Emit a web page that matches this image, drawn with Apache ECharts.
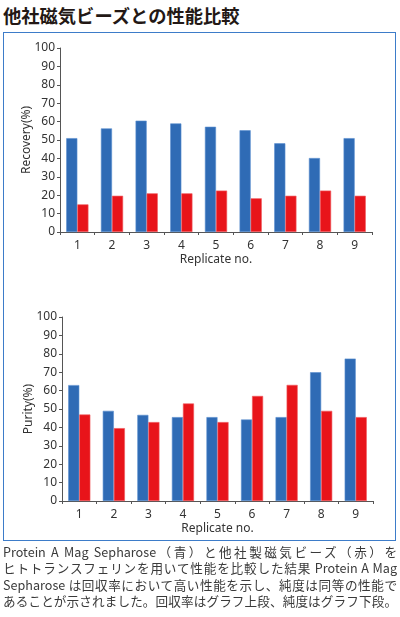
<!DOCTYPE html>
<html>
<head>
<meta charset="utf-8">
<script src="https://cdn.jsdelivr.net/npm/echarts@6/dist/echarts.min.js"></script>
<style>
  html, body { margin:0; padding:0; background:#fff; }
  #wrap { position:relative; width:400px; height:617px; overflow:hidden; }
  #title { position:absolute; left:3px; top:2px; font-family:"Noto Sans CJK JP"; font-weight:bold; font-size:18.3px; color:#231815; }
  #box { position:absolute; left:3px; top:32px; width:391px; height:507px; border:1.5px solid #3d7cc9; }
  #chart { position:absolute; left:0; top:0; width:400px; height:617px; }
  #cap { position:absolute; left:3px; top:544px; width:394px; font-family:"Noto Sans CJK JP"; font-size:12.6px; line-height:16.4px; color:#3a3a3a; }
  #cap div { text-align:justify; text-align-last:justify; white-space:nowrap; }
</style>
</head>
<body>
<div id="wrap">
  <div id="title">他社磁気ビーズとの性能比較</div>
  <div id="box"></div>
  <div id="chart"></div>
  <div id="cap">
    <div>Protein A Mag Sepharose（青）と他社製磁気ビーズ（赤）を</div>
    <div>ヒトトランスフェリンを用いて性能を比較した結果 Protein A Mag</div>
    <div>Sepharose は回収率において高い性能を示し、純度は同等の性能で</div>
    <div>あることが示されました。回収率はグラフ上段、純度はグラフ下段。</div>
  </div>
</div>
<script>
const categories = ["1","2","3","4","5","6","7","8","9"];
const recoveryBlue = [51, 56.3, 60.5, 59, 57.2, 55.3, 48.2, 40.2, 51];
const recoveryRed  = [15, 19.7, 21, 21, 22.5, 18.3, 19.7, 22.5, 19.7];
const purityBlue   = [63, 49, 46.8, 45.6, 45.6, 44.3, 45.6, 70, 77.4];
const purityRed    = [47, 39.6, 42.9, 53, 42.9, 57.1, 63.1, 49, 45.6];
const yTicks = { min:0, max:100, interval:10 };
const xName = "Replicate no.";
const yNames = ["Recovery(%)", "Purity(%)"];

const BLUE = "#2f6bb5", RED = "#e8141a";
const font = "Noto Sans";
const chart = echarts.init(document.getElementById('chart'), null, {renderer:'canvas'});

function xAxis(gi){
  return {
    type:'category', gridIndex:gi, data:categories,
    axisLine:{show:true, lineStyle:{color:'#555', width:1}},
    axisTick:{show:true, length:3, lineStyle:{color:'#555'}},
    axisLabel:{color:'#333', fontSize:12, fontFamily:font, margin:8},
    name:xName, nameLocation:'middle', nameGap:22, nameMoveOverlap:false,
    nameTextStyle:{color:'#333', fontSize:12, fontFamily:font},
    splitLine:{show:false}
  };
}
function yAxis(gi, nm){
  return {
    type:'value', gridIndex:gi, min:yTicks.min, max:yTicks.max, interval:yTicks.interval,
    axisLine:{show:true, lineStyle:{color:'#555', width:1}},
    axisTick:{show:true, length:3, lineStyle:{color:'#555'}},
    axisLabel:{color:'#333', fontSize:12, fontFamily:font, margin:5},
    name:nm, nameLocation:'middle', nameGap:27, nameMoveOverlap:false,
    nameTextStyle:{color:'#333', fontSize:12, fontFamily:font},
    splitLine:{show:false}
  };
}
function bar(gi, data, color){
  return {
    type:'bar', xAxisIndex:gi, yAxisIndex:gi, data:data,
    barGap:'0%', barCategoryGap:'36%',
    itemStyle:{color:color, borderColor: color===BLUE ? '#5b8fd0' : '#f05a5e', borderWidth:0.6},
    silent:true, animation:false
  };
}
chart.setOption({
  animation:false,
  grid:[
    {left:60, top:48, width:312, height:184},
    {left:62, top:317, width:311, height:184}
  ],
  xAxis:[xAxis(0), xAxis(1)],
  yAxis:[yAxis(0, yNames[0]), yAxis(1, yNames[1])],
  series:[
    bar(0, recoveryBlue, BLUE), bar(0, recoveryRed, RED),
    bar(1, purityBlue, BLUE), bar(1, purityRed, RED)
  ]
});
</script>
</body>
</html>
